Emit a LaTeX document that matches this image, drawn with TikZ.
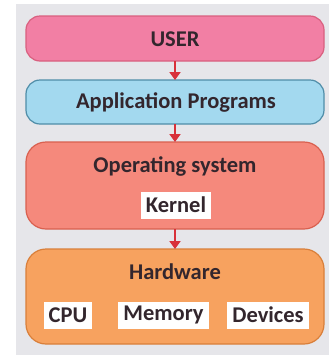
\documentclass[tikz,border=0pt]{standalone}
\usepackage{fontspec}
\setmainfont{Carlito}
\usetikzlibrary{arrows.meta}
\definecolor{bgpanel}{HTML}{E6E6EA}
\definecolor{userfill}{HTML}{F27FA4}
\definecolor{userdraw}{HTML}{D9607F}
\definecolor{appfill}{HTML}{A3D9EF}
\definecolor{appdraw}{HTML}{4F8DA8}
\definecolor{osfill}{HTML}{F5897C}
\definecolor{osdraw}{HTML}{D9604F}
\definecolor{hwfill}{HTML}{F7A25F}
\definecolor{hwdraw}{HTML}{D97F3A}
\definecolor{arrowred}{HTML}{D8313A}
\definecolor{txt}{HTML}{33262D}
\begin{document}
\begin{tikzpicture}[x=1pt,y=-1pt,
  layer/.style={draw, line width=1.2pt, rounded corners=14pt},
  biglayer/.style={layer, rounded corners=20pt},
  lbl/.style={text=txt, font=\bfseries\fontsize{22.5}{24}\selectfont, inner sep=0pt},
  inner/.style={fill=white, text=txt, font=\bfseries\fontsize{22.5}{24}\selectfont, inner xsep=5pt, inner ysep=2pt, minimum height=27pt},
  flow/.style={arrowred, line width=2.2pt, -{Triangle[length=8pt,width=11pt]}}]
\useasboundingbox (0,0) rectangle (332,357);
\fill[bgpanel] (16,4) rectangle (329,355);
% boxes
\draw[layer, fill=userfill, draw=userdraw] (26,16) rectangle (324,61);
\node[lbl] (user) at (175,39) {USER};
\coordinate (userB) at (175,61);
\draw[layer, fill=appfill, draw=appdraw] (26,80) rectangle (324,124);
\node[lbl] (app) at (176,102) {Application Programs};
\coordinate (appT) at (175,80);
\coordinate (appB) at (175,124);
\draw[biglayer, fill=osfill, draw=osdraw] (26,142) rectangle (324,229);
\node[lbl] (os) at (175,166) {Operating system};
\node[inner] (kernel) at (176,205) {Kernel};
\coordinate (osT) at (175,142);
\coordinate (osB) at (175,229);
\draw[biglayer, fill=hwfill, draw=hwdraw] (26,249) rectangle (324,344);
\node[lbl] (hw) at (175,272) {Hardware};
\node[inner] (cpu) at (68,315) {CPU};
\node[inner] (mem) at (163.5,315) {Memory};
\node[inner] (dev) at (268,315) {Devices};
\coordinate (hwT) at (175,249);
% arrows
\draw[flow] (userB) -- (appT);
\draw[flow] (appB) -- (osT);
\draw[flow] (osB) -- (hwT);
\end{tikzpicture}
\end{document}
